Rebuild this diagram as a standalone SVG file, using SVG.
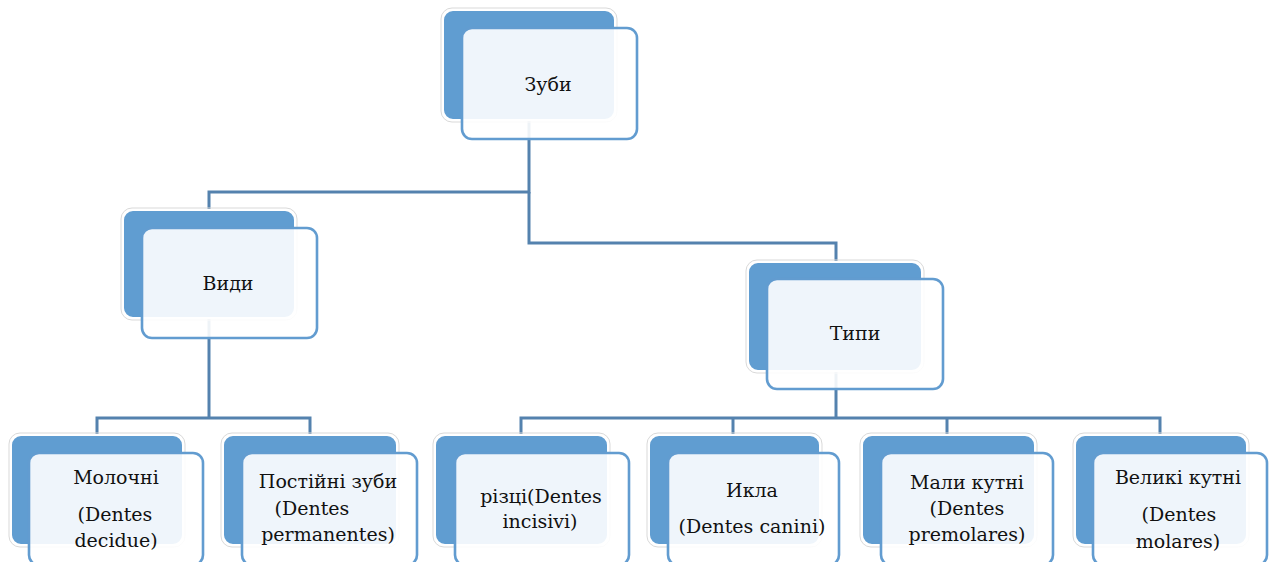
<svg xmlns="http://www.w3.org/2000/svg" width="1272" height="562" viewBox="0 0 1272 562">
<style>
.back{fill:#609DD1;stroke:#ffffff;stroke-width:2}
.halo{fill:none;stroke:#d9d9d9;stroke-width:1}
.front{fill:#ffffff;fill-opacity:0.9;stroke:#629CD0;stroke-width:2.6}
.conn{fill:none;stroke:#5482AE;stroke-width:3}
.t{font-family:'DejaVu Serif','Liberation Serif',serif;font-size:19px;fill:#111;text-anchor:middle}
</style>
<rect width="1272" height="562" fill="#ffffff"/>
<g id="connectors">
<polyline class="conn" points="529,120 529,192 209,192 209,210"/>
<polyline class="conn" points="529,192 529,243 836,243 836,262"/>
<polyline class="conn" points="209,318 209,418"/>
<polyline class="conn" points="97,435 97,418 310,418 310,435"/>
<polyline class="conn" points="836,371 836,418"/>
<polyline class="conn" points="521,435 521,418 1160,418 1160,435"/>
<line class="conn" x1="733" y1="418" x2="733" y2="435"/>
<line class="conn" x1="947" y1="418" x2="947" y2="435"/>
</g>
<g id="node-zuby">
<rect class="halo" x="441" y="8" width="176" height="114" rx="11"/>
<rect class="back" x="443" y="10" width="172" height="110" rx="10"/>
<rect class="front" x="462" y="28" width="175" height="111" rx="10"/>
<text class="t" x="548" y="91">Зуби</text>
</g>
<g id="node-vydy">
<rect class="halo" x="121" y="208" width="176" height="112" rx="11"/>
<rect class="back" x="123" y="210" width="172" height="108" rx="10"/>
<rect class="front" x="142" y="228" width="175" height="110" rx="10"/>
<text class="t" x="228" y="290">Види</text>
</g>
<g id="node-typy">
<rect class="halo" x="746" y="260" width="178" height="113" rx="11"/>
<rect class="back" x="748" y="262" width="174" height="109" rx="10"/>
<rect class="front" x="767" y="279" width="176" height="110" rx="10"/>
<text class="t" x="855" y="340">Типи</text>
</g>
<g id="node-molochni">
<rect class="halo" x="9" y="433" width="176" height="114" rx="11"/>
<rect class="back" x="11" y="435" width="172" height="110" rx="10"/>
<rect class="front" x="29" y="453" width="174" height="112" rx="10"/>
<text class="t" x="116" y="484">Молочні</text>
<text class="t" x="115" y="521">(Dentes</text>
<text class="t" x="116" y="547">decidue)</text>
</g>
<g id="node-postiyni">
<rect class="halo" x="221" y="433" width="178" height="114" rx="11"/>
<rect class="back" x="223" y="435" width="174" height="110" rx="10"/>
<rect class="front" x="242" y="453" width="175" height="112" rx="10"/>
<text class="t" x="328" y="488">Постійні зуби</text>
<text class="t" x="312" y="515">(Dentes</text>
<text class="t" x="328" y="541">permanentes)</text>
</g>
<g id="node-riztsi">
<rect class="halo" x="433" y="433" width="177" height="114" rx="11"/>
<rect class="back" x="435" y="435" width="173" height="110" rx="10"/>
<rect class="front" x="455" y="453" width="174" height="112" rx="10"/>
<text class="t" x="541" y="503">різці(Dentes</text>
<text class="t" x="540" y="528">incisivi)</text>
</g>
<g id="node-ikla">
<rect class="halo" x="647" y="433" width="175" height="114" rx="11"/>
<rect class="back" x="649" y="435" width="171" height="110" rx="10"/>
<rect class="front" x="668" y="453" width="171" height="112" rx="10"/>
<text class="t" x="752" y="497">Икла</text>
<text class="t" x="752" y="533">(Dentes canini)</text>
</g>
<g id="node-maly">
<rect class="halo" x="860" y="433" width="177" height="114" rx="11"/>
<rect class="back" x="862" y="435" width="173" height="110" rx="10"/>
<rect class="front" x="881" y="453" width="172" height="112" rx="10"/>
<text class="t" x="967" y="489">Мали кутні</text>
<text class="t" x="967" y="515">(Dentes</text>
<text class="t" x="967" y="541">premolares)</text>
</g>
<g id="node-velyki">
<rect class="halo" x="1073" y="433" width="176" height="114" rx="11"/>
<rect class="back" x="1075" y="435" width="172" height="110" rx="10"/>
<rect class="front" x="1093" y="453" width="174" height="112" rx="10"/>
<text class="t" x="1178" y="484">Великі кутні</text>
<text class="t" x="1179" y="521">(Dentes</text>
<text class="t" x="1178" y="548">molares)</text>
</g>
</svg>
